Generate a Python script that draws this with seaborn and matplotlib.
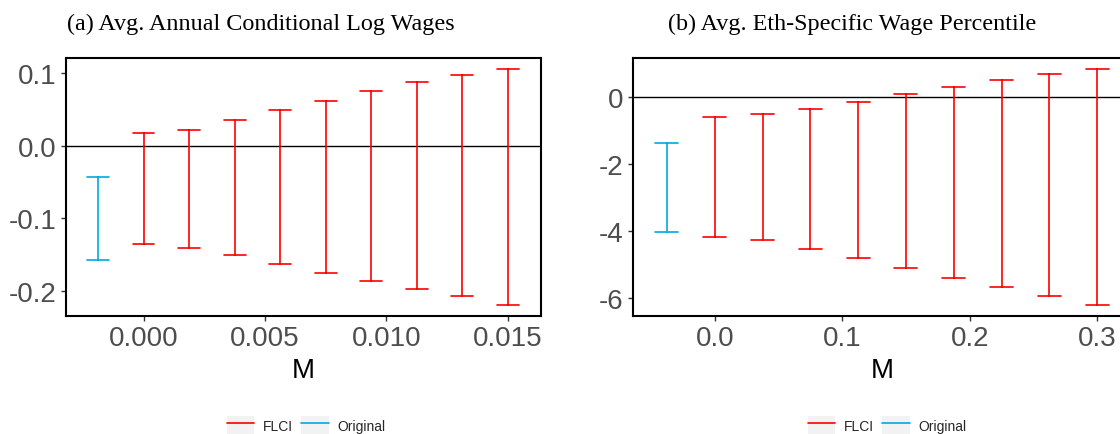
import matplotlib
matplotlib.use("Agg")
import matplotlib.pyplot as plt
from matplotlib.patches import Rectangle
from matplotlib.lines import Line2D
from matplotlib.legend_handler import HandlerTuple
import pandas as pd
import seaborn as sns

# Panel (a): average annual conditional log wages
m_a = [0.0, 0.001875, 0.00375, 0.005625, 0.0075, 0.009375, 0.01125, 0.013125, 0.015]
lb_a = [-0.1356, -0.1402, -0.1507, -0.1630, -0.1744, -0.1858, -0.1963, -0.2064, -0.2192]
ub_a = [0.0174, 0.0219, 0.0352, 0.0489, 0.0616, 0.0749, 0.0872, 0.0973, 0.1046]
orig_m_a = -0.001875
orig_lb_a = -0.1566
orig_ub_a = -0.0434

# Panel (b): average ethnicity-specific wage percentile
m_b = [0.0, 0.0375, 0.075, 0.1125, 0.15, 0.1875, 0.225, 0.2625, 0.3]
lb_b = [-4.189, -4.269, -4.537, -4.826, -5.114, -5.403, -5.682, -5.950, -6.219]
ub_b = [-0.587, -0.507, -0.348, -0.129, 0.0995, 0.308, 0.507, 0.687, 0.836]
orig_m_b = -0.0375
orig_lb_b = -4.030
orig_ub_b = -1.363

xticks_a = [0.0, 0.005, 0.010, 0.015]
xticklabels_a = ["0.000", "0.005", "0.010", "0.015"]
yticks_a = [-0.2, -0.1, 0.0, 0.1]
yticklabels_a = ["-0.2", "-0.1", "0.0", "0.1"]
xticks_b = [0.0, 0.1, 0.2, 0.3]
xticklabels_b = ["0.0", "0.1", "0.2", "0.3"]
yticks_b = [-6, -4, -2, 0]
yticklabels_b = ["-6", "-4", "-2", "0"]

titles = ["(a) Avg. Annual Conditional Log Wages", "(b) Avg. Eth-Specific Wage Percentile"]
types = ["FLCI", "Original"]
colors = {"FLCI": "#FF0000", "Original": "#00A9E0"}


def long_frame(m, lb, ub, om, olb, oub):
    rows = []
    for x, lo, hi in zip(m, lb, ub):
        rows.append((x, lo, "FLCI"))
        rows.append((x, hi, "FLCI"))
    rows.append((om, olb, "Original"))
    rows.append((om, oub, "Original"))
    return pd.DataFrame(rows, columns=["M", "value", "type"])


df_a = long_frame(m_a, lb_a, ub_a, orig_m_a, orig_lb_a, orig_ub_a)
df_b = long_frame(m_b, lb_b, ub_b, orig_m_b, orig_lb_b, orig_ub_b)

sns.set_style("white")
plt.rcParams["font.family"] = ["Liberation Sans", "DejaVu Sans"]
plt.rcParams["axes.unicode_minus"] = False

W, H = 1120, 435
fig = plt.figure(figsize=(W / 100, H / 100), dpi=100)

ax_a = fig.add_axes([66 / W, 1 - 317 / H, 475 / W, 258 / H])
ax_b = fig.add_axes([633 / W, 1 - 317 / H, 498 / W, 258 / H])

panels = [
    (ax_a, df_a, (-0.003194, 0.016368), (-0.2338, 0.1200), xticks_a, xticklabels_a, yticks_a, yticklabels_a),
    (ax_b, df_b, (-0.0641, 0.3265), (-6.55, 1.18), xticks_b, xticklabels_b, yticks_b, yticklabels_b),
]

for ax, df, xl, yl, xt, xtl, yt, ytl in panels:
    ax.axhline(0, color="black", linewidth=1.0, zorder=1)
    sns.pointplot(
        data=df, x="M", y="value", hue="type", hue_order=types, palette=colors,
        native_scale=True, estimator="mean",
        errorbar=lambda v: (v.min(), v.max()),
        capsize=0.48, marker="none", linestyle="none",
        err_kws={"linewidth": 1.2}, legend=False, ax=ax,
    )
    ax.set_xlim(*xl)
    ax.set_ylim(*yl)
    ax.set_xticks(xt)
    ax.set_xticklabels(xtl)
    ax.set_yticks(yt)
    ax.set_yticklabels(ytl)
    ax.set_ylabel("")
    ax.set_xlabel("M", fontsize=20, color="black")
    ax.xaxis.set_label_coords(0.5, -0.16)
    ax.xaxis.label.set_verticalalignment("top")
    ax.tick_params(axis="both", which="major", labelsize=20, labelcolor="#4D4D4D",
                   color="#333333", length=3.8, width=1.0, pad=3, bottom=True, left=True)
    for sp in ax.spines.values():
        sp.set_visible(True)
        sp.set_color("black")
        sp.set_linewidth(1.5)
    ax.grid(False)

fig.text(261 / W, 1 - 24 / H, titles[0], family="Liberation Serif", fontsize=17.4,
         ha="center", va="center", color="black")
fig.text(852 / W, 1 - 24 / H, titles[1], family="Liberation Serif", fontsize=17.4,
         ha="center", va="center", color="black")

# Legend keys drawn ggplot-style: line over a light grey key box
def key(c):
    return (Rectangle((0, 0), 1, 1, facecolor="#F2F2F2", edgecolor="none"),
            Line2D([], [], color=c, linewidth=1.2))

handles = [key(colors[t]) for t in types]
for cx in (306, 887):
    fig.legend(handles, types, loc="center", bbox_to_anchor=(cx / W, 1 - 426 / H),
               ncol=2, frameon=False, fontsize=10, handlelength=2.0, handleheight=1.7,
               handletextpad=0.6, columnspacing=0.6,
               handler_map={tuple: HandlerTuple(ndivide=1, pad=0)})

fig.savefig("out.png", dpi=100)
